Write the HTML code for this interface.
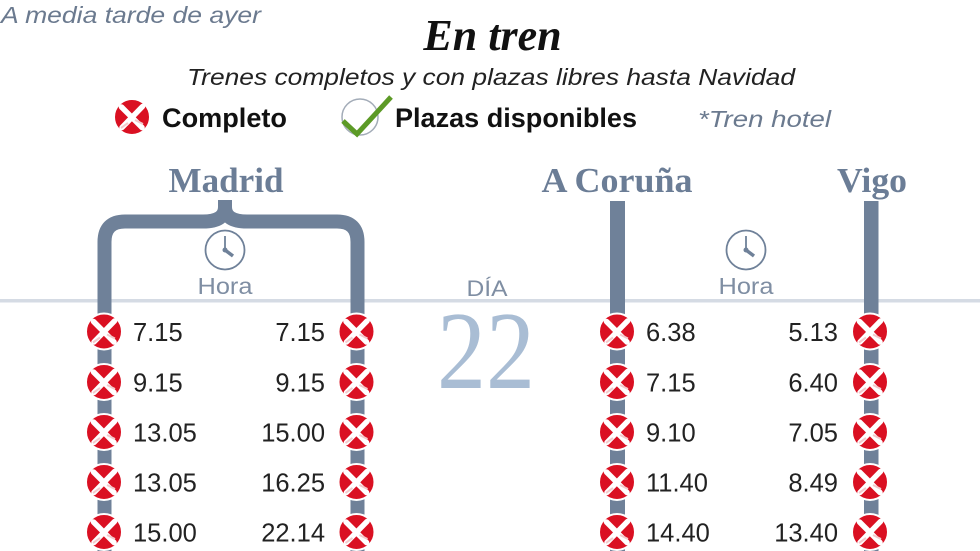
<!DOCTYPE html>
<html><head><meta charset="utf-8">
<style>
html,body{margin:0;padding:0;background:#fff;}
svg{display:block;}
</style></head>
<body>
<svg width="980" height="551" viewBox="0 0 980 551" xmlns="http://www.w3.org/2000/svg">
<defs>
<g id="x">
<circle r="18" fill="#da1022" stroke="#fff" stroke-width="2"/>
<path d="M-10.5,-10 L10,10.5 M10.5,-10.5 L-10,10.5" stroke="#fff" stroke-width="5.5" stroke-linecap="round" fill="none"/>
<path d="M-4,6 L-11,11 M3,3 L11,7" stroke="#f3c9cc" stroke-width="2" fill="none"/>
</g>
<g id="clock" fill="none" stroke="#6f8199">
<circle r="19.5" stroke-width="1.8"/>
<line x1="0" y1="0" x2="0" y2="-14" stroke-width="1.8"/>
<line x1="0" y1="0" x2="8" y2="6" stroke-width="3.5"/>
<circle r="2.5" fill="#6f8199" stroke="none"/>
</g>
</defs>

<text x="1" y="23" font-family="Liberation Sans, sans-serif" font-style="italic" font-size="23" fill="#6b7a8f" textLength="260" lengthAdjust="spacingAndGlyphs">A media tarde de ayer</text>
<text x="492.5" y="50" text-anchor="middle" font-family="Liberation Serif, serif" font-style="italic" font-weight="bold" font-size="44" fill="#111">En tren</text>
<text x="187" y="85" font-family="Liberation Sans, sans-serif" font-style="italic" font-size="23" fill="#222" textLength="608" lengthAdjust="spacingAndGlyphs">Trenes completos y con plazas libres hasta Navidad</text>

<use href="#x" x="132" y="117"/>
<text x="162" y="127" font-family="Liberation Sans, sans-serif" font-weight="bold" font-size="27" fill="#111" textLength="125" lengthAdjust="spacingAndGlyphs">Completo</text>
<circle cx="360" cy="117" r="18" fill="#fff" stroke="#a3acb8" stroke-width="1.5"/>
<path d="M343,121 L357,134 L391,97" fill="none" stroke="#5c9a26" stroke-width="5" stroke-linejoin="miter" stroke-linecap="butt"/>
<text x="395" y="127" font-family="Liberation Sans, sans-serif" font-weight="bold" font-size="27" fill="#111" textLength="242" lengthAdjust="spacingAndGlyphs">Plazas disponibles</text>
<text x="698" y="127" font-family="Liberation Sans, sans-serif" font-style="italic" font-size="23" fill="#6b7a8f" textLength="133" lengthAdjust="spacingAndGlyphs">*Tren hotel</text>

<text x="226" y="192" text-anchor="middle" font-family="Liberation Serif, serif" font-weight="bold" font-size="35" fill="#6b7d96" textLength="115" lengthAdjust="spacingAndGlyphs">Madrid</text>
<text x="617" y="192" text-anchor="middle" font-family="Liberation Serif, serif" font-weight="bold" font-size="35" fill="#6b7d96" textLength="151" lengthAdjust="spacingAndGlyphs">A Coruña</text>
<text x="872" y="192" text-anchor="middle" font-family="Liberation Serif, serif" font-weight="bold" font-size="35" fill="#6b7d96" textLength="70" lengthAdjust="spacingAndGlyphs">Vigo</text>

<rect x="0" y="299" width="980" height="3.5" fill="#d5dbe4"/>

<path d="M104.5,551 V242 Q104.5,221.5 125,221.5 H203 Q225,221.5 225,207 V200" fill="none" stroke="#6f8199" stroke-width="14"/>
<path d="M357.5,551 V242 Q357.5,221.5 337,221.5 H247 Q225,221.5 225,207 V200" fill="none" stroke="#6f8199" stroke-width="14"/>
<rect x="610" y="201" width="15" height="350" fill="#6f8199"/>
<rect x="864" y="201" width="14.5" height="350" fill="#6f8199"/>

<use href="#clock" x="225" y="250"/>
<use href="#clock" x="746" y="250"/>
<text x="225" y="294" text-anchor="middle" font-family="Liberation Sans, sans-serif" font-size="23" fill="#7f8ea3" textLength="55" lengthAdjust="spacingAndGlyphs">Hora</text>
<text x="746" y="294" text-anchor="middle" font-family="Liberation Sans, sans-serif" font-size="23" fill="#7f8ea3" textLength="55" lengthAdjust="spacingAndGlyphs">Hora</text>
<text x="487" y="296" text-anchor="middle" font-family="Liberation Sans, sans-serif" font-size="22" fill="#7f8ea3" textLength="41" lengthAdjust="spacingAndGlyphs">DÍA</text>
<text x="486" y="388" text-anchor="middle" font-family="Liberation Serif, serif" font-size="111" fill="#a9bdd4" textLength="98" lengthAdjust="spacingAndGlyphs">22</text>

<g>
<use href="#x" x="104" y="331.5"/><use href="#x" x="104" y="382"/><use href="#x" x="104" y="432"/><use href="#x" x="104" y="482"/><use href="#x" x="104" y="532"/>
<use href="#x" x="356.5" y="331.5"/><use href="#x" x="356.5" y="382"/><use href="#x" x="356.5" y="432"/><use href="#x" x="356.5" y="482"/><use href="#x" x="356.5" y="532"/>
<use href="#x" x="617" y="331.5"/><use href="#x" x="617" y="382"/><use href="#x" x="617" y="432"/><use href="#x" x="617" y="482"/><use href="#x" x="617" y="532"/>
<use href="#x" x="870" y="331.5"/><use href="#x" x="870" y="382"/><use href="#x" x="870" y="432"/><use href="#x" x="870" y="482"/><use href="#x" x="870" y="532"/>
</g>

<g font-family="Liberation Sans, sans-serif" font-size="25.5" fill="#222">
<text x="133" y="341">7.15</text>
<text x="133" y="391.5">9.15</text>
<text x="133" y="441.7">13.05</text>
<text x="133" y="491.7">13.05</text>
<text x="133" y="541.7">15.00</text>
<g text-anchor="end">
<text x="325" y="341">7.15</text>
<text x="325" y="391.5">9.15</text>
<text x="325" y="441.7">15.00</text>
<text x="325" y="491.7">16.25</text>
<text x="325" y="541.7">22.14</text>
</g>
<text x="646" y="341">6.38</text>
<text x="646" y="391.5">7.15</text>
<text x="646" y="441.7">9.10</text>
<text x="646" y="491.7">11.40</text>
<text x="646" y="541.7">14.40</text>
<g text-anchor="end">
<text x="838" y="341">5.13</text>
<text x="838" y="391.5">6.40</text>
<text x="838" y="441.7">7.05</text>
<text x="838" y="491.7">8.49</text>
<text x="838" y="541.7">13.40</text>
</g>
</g>
</svg>
</body></html>
